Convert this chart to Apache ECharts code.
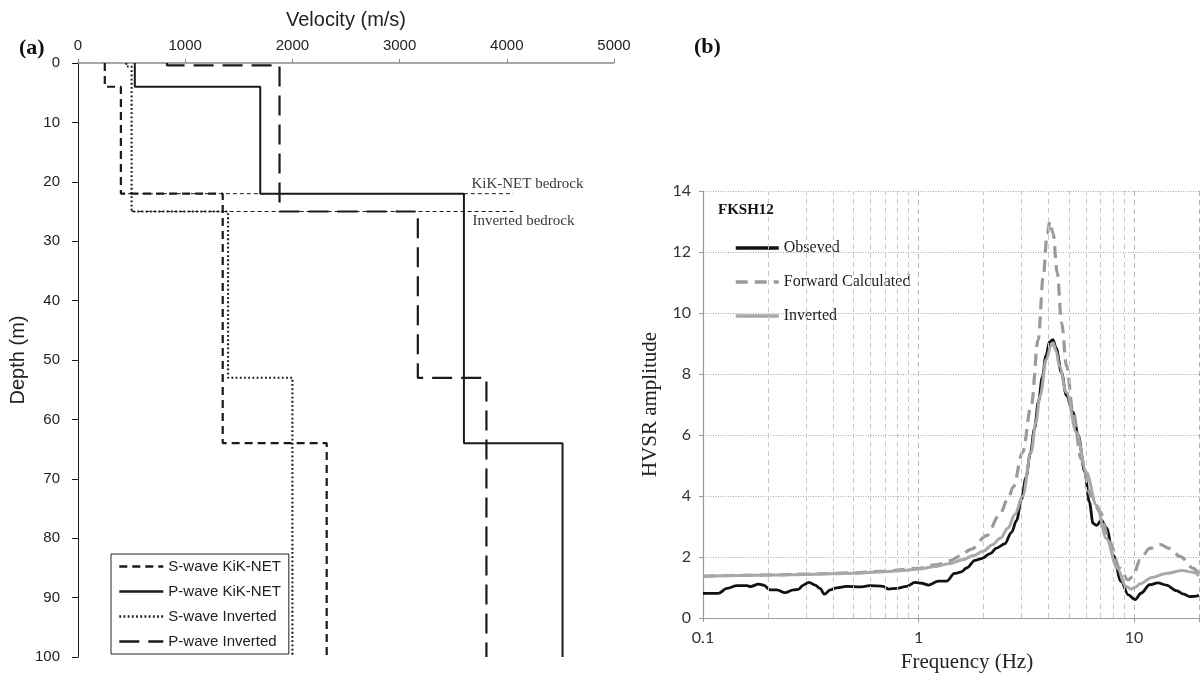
<!DOCTYPE html>
<html><head><meta charset="utf-8">
<script src="https://cdn.jsdelivr.net/npm/echarts@6/dist/echarts.min.js"></script>
<style>html,body{margin:0;padding:0;background:#fff}#c{width:1204px;height:678px}</style>
</head><body><div id="c"></div><script>
// ---------- Panel (a): velocity profiles ----------
const velTicks = [0, 1000, 2000, 3000, 4000, 5000];
const depthTicks = [0, 10, 20, 30, 40, 50, 60, 70, 80, 90, 100];
const sKikDepths = [0, 4, 22, 64, 100];
const sKikVel = [250, 400, 1350, 2320];
const pKikDepths = [0, 4, 22, 64, 100];
const pKikVel = [530, 1700, 3600, 4520];
const sInvDepths = [0, 0.6, 25, 53, 100];
const sInvVel = [450, 500, 1400, 2000];
const pInvDepths = [0, 0.4, 25, 53, 100];
const pInvVel = [830, 1880, 3170, 3810];
const profileNames = ['S-wave KiK-NET', 'P-wave KiK-NET', 'S-wave Inverted', 'P-wave Inverted'];
const bedrockDepths = [22, 25];
const bedrockStartVel = [400, 500];
const bedrockEndVel = [4060, 4060];
const bedrockLabels = ['KiK-NET bedrock', 'Inverted bedrock'];
const bedrockLabelVel = [3675, 3684];

// ---------- Panel (b): HVSR ----------
const obsFreq = [0.1,0.118,0.129,0.144,0.16,0.166,0.181,0.191,0.205,0.22,0.24,0.263,0.277,0.292,0.31,0.331,0.349,0.366,0.389,0.417,0.464,0.534,0.594,0.685,0.724,0.792,0.88,0.963,1.034,1.11,1.235,1.35,1.47,1.58,1.67,1.83,1.96,2.15,2.3,2.51,2.7,2.85,3.0,3.15,3.3,3.45,3.6,3.75,3.9,4.05,4.2,4.35,4.6,4.85,5.2,5.5,5.9,6.2,6.45,6.7,7.05,7.45,8.0,8.7,9.4,10.1,10.8,11.8,12.9,14.1,15.7,17.0,18.1,19.0,20];
const obsAmp = [0.81,0.81,0.97,1.06,1.06,1.03,1.11,1.08,0.92,0.92,0.83,0.92,0.94,1.08,1.17,1.08,0.97,0.78,0.92,0.99,1.04,1.02,1.06,1.04,0.95,0.97,1.04,1.17,1.14,1.08,1.21,1.21,1.46,1.51,1.64,1.89,1.95,2.11,2.29,2.43,2.81,3.2,3.9,4.6,5.4,6.2,7.1,7.9,8.6,9.05,9.13,8.85,8.05,7.3,6.75,6.0,4.8,3.8,3.1,3.04,3.21,2.95,2.05,1.2,0.76,0.6,0.82,1.09,1.15,1.08,0.9,0.78,0.7,0.71,0.74];
const fwdFreq = [0.1,0.2,0.3,0.5,0.7,1.0,1.2,1.4,1.55,1.75,2.07,2.37,2.6,2.75,3.04,3.33,3.59,3.79,3.95,4.07,4.21,4.4,4.61,4.86,5.21,5.68,6.32,6.95,7.7,8.59,9.37,9.88,10.64,11.8,13.2,14.6,16.4,18.8,20];
const fwdAmp = [1.37,1.41,1.44,1.48,1.54,1.63,1.74,1.88,2.02,2.25,2.7,3.37,3.9,4.3,5.44,6.96,9.13,11.2,12.6,13.0,12.6,11.3,9.68,8.26,6.74,5.22,4.0,3.48,2.5,1.63,1.25,1.36,1.9,2.28,2.41,2.28,2.01,1.63,1.43];
const invFreq = [0.1,0.15,0.2,0.3,0.4,0.5,0.7,0.85,1.0,1.2,1.4,1.6,1.8,2.0,2.2,2.4,2.6,2.8,3.04,3.33,3.5,3.66,3.92,4.1,4.21,4.35,4.5,4.86,5.4,6.0,6.69,7.44,8.35,9.18,9.7,10.2,10.64,12.1,14.1,16.7,18.8,20];
const invAmp = [1.37,1.39,1.41,1.43,1.45,1.47,1.52,1.56,1.61,1.69,1.79,1.91,2.05,2.2,2.4,2.62,2.95,3.4,4.0,5.44,6.4,7.28,8.48,8.9,9.02,8.75,8.26,7.39,6.09,4.78,3.7,2.61,1.63,1.03,0.95,1.02,1.12,1.33,1.46,1.56,1.5,1.38];
const hvsrNames = ['Obseved', 'Forward Calculated', 'Inverted'];
const freqLabels = [0.1, 1, 10];
const ampTicks = [0, 2, 4, 6, 8, 10, 12, 14];
const minorFreqLines = [0.2,0.3,0.4,0.5,0.6,0.7,0.8,0.9,2,3,4,5,6,7,8,9];
const stationName = 'FKSH12';

// ---------- build ----------
function stepProfile(depths, vels) {
  const pts = [];
  for (let i = 0; i < vels.length; i++) {
    pts.push([vels[i], depths[i]]);
    pts.push([vels[i], depths[i + 1]]);
  }
  return pts;
}
function pairs(xs, ys) { return xs.map((x, i) => [x, ys[i]]); }

const SANS = '"Liberation Sans", Arial, sans-serif';
const SERIF = '"Liberation Serif", "Times New Roman", serif';
const BLACK = '#1a1a1a';

const profiles = [
  { data: stepProfile(sKikDepths, sKikVel), type: [8, 5], width: 2.2 },
  { data: stepProfile(pKikDepths, pKikVel), type: 'solid', width: 2 },
  { data: stepProfile(sInvDepths, sInvVel), type: [1.8, 2.4], width: 2.1 },
  { data: stepProfile(pInvDepths, pInvVel), type: [20, 9], width: 2.2 }
];

const series = [];
bedrockDepths.forEach((d, i) => {
  series.push({
    type: 'line', name: 'bed' + i, xAxisIndex: 0, yAxisIndex: 0, z: 1,
    symbol: 'none', silent: true,
    data: [[bedrockStartVel[i], d], [bedrockEndVel[i], d]],
    lineStyle: { color: BLACK, width: 1, type: [4, 3] }
  });
});
profiles.forEach((p, i) => {
  series.push({
    type: 'line', name: profileNames[i], xAxisIndex: 0, yAxisIndex: 0, z: 3,
    symbol: 'none', data: p.data,
    lineStyle: { color: BLACK, width: p.width, type: p.type },
    itemStyle: { color: BLACK }
  });
});
series.push({
  type: 'scatter', name: 'bedLabels', xAxisIndex: 0, yAxisIndex: 0, silent: true,
  symbol: 'circle', symbolSize: 1, itemStyle: { color: 'rgba(0,0,0,0)' },
  data: bedrockDepths.map((d, i) => ({
    value: [bedrockLabelVel[i], d], name: bedrockLabels[i],
    label: { position: i === 0 ? [0, -17] : [0, 3] }
  })),
  label: {
    show: true, formatter: '{b}', align: 'left', verticalAlign: 'top',
    fontFamily: SERIF, fontSize: 15, color: '#000'
  }
});
// minor vertical gridlines for log axis
series.push({
  type: 'line', name: 'minorGrid', xAxisIndex: 1, yAxisIndex: 1, data: [], z: 1, silent: true,
  markLine: {
    silent: true, symbol: ['none', 'none'], label: { show: false }, animation: false,
    lineStyle: { color: '#c9c9c9', width: 1, type: [5, 4] },
    data: minorFreqLines.map(v => ({ xAxis: v }))
  }
});
const hvsrStyles = [
  { x: obsFreq, y: obsAmp, color: '#111111', width: 2.8, type: 'solid' },
  { x: fwdFreq, y: fwdAmp, color: '#9a9a9a', width: 3.2, type: [12, 7] },
  { x: invFreq, y: invAmp, color: '#a8a8a8', width: 3, type: 'solid' }
];
hvsrStyles.forEach((s, i) => {
  series.push({
    type: 'line', name: hvsrNames[i], xAxisIndex: 1, yAxisIndex: 1, z: 3 + i,
    symbol: 'none', smooth: 0.35, smoothMonotone: 'x',
    data: pairs(s.x, s.y),
    lineStyle: { color: s.color, width: s.width, type: s.type },
    itemStyle: { color: s.color }
  });
});

const option = {
  animation: false,
  backgroundColor: '#fff',
  title: [
    { text: '(a)', left: 14, top: 32, textStyle: { fontFamily: SERIF, fontWeight: 'bold', fontSize: 22, color: '#111' } },
    { text: '(b)', left: 689, top: 31, textStyle: { fontFamily: SERIF, fontWeight: 'bold', fontSize: 22, color: '#111' } },
    { text: stationName, left: 713, top: 198, textStyle: { fontFamily: SERIF, fontWeight: 'bold', fontSize: 15, color: '#111' } }
  ],
  grid: [
    { left: 78, top: 63, width: 536, height: 594 },
    { left: 703, top: 191, width: 496, height: 429 }
  ],
  legend: [
    {
      data: profileNames, left: 111, top: 554, orient: 'vertical',
      borderColor: '#222', borderWidth: 1, borderRadius: 0,
      padding: [5, 8, 5, 7], itemGap: 10, itemWidth: 44, itemHeight: 14,
      itemStyle: { opacity: 0 },
      lineStyle: { width: 2.6 },
      textStyle: { fontFamily: SANS, fontSize: 15, color: '#222' }
    },
    {
      data: hvsrNames, left: 734, top: 240, orient: 'vertical',
      padding: 0, itemGap: 18, itemWidth: 43, itemHeight: 14,
      itemStyle: { opacity: 0 },
      lineStyle: { width: 3.5 },
      textStyle: { fontFamily: SERIF, fontSize: 16, color: '#222' }
    }
  ],
  xAxis: [
    {
      type: 'value', gridIndex: 0, position: 'top',
      min: velTicks[0], max: velTicks[velTicks.length - 1], interval: velTicks[1] - velTicks[0],
      name: 'Velocity (m/s)', nameLocation: 'middle', nameGap: 33,
      nameTextStyle: { fontFamily: SANS, fontSize: 20, color: '#222' },
      axisLine: { lineStyle: { color: '#8a8a8a', width: 1.5 } },
      axisTick: { show: true, length: 4, lineStyle: { color: '#8a8a8a' } },
      axisLabel: { fontFamily: SANS, fontSize: 15, color: '#222', margin: 10, formatter: v => String(v) },
      splitLine: { show: false }
    },
    {
      type: 'log', gridIndex: 1, logBase: 10, min: 0.1, max: 20,
      name: 'Frequency (Hz)', nameLocation: 'middle', nameGap: 34,
      nameTextStyle: { fontFamily: SERIF, fontSize: 21, color: '#222', padding: [0, 0, 0, 32] },
      axisLine: { lineStyle: { color: '#9a9a9a', width: 1.2 } },
      axisTick: { show: true, length: 4, lineStyle: { color: '#9a9a9a' } },
      axisLabel: {
        fontFamily: 'Lato, "Open Sans", sans-serif', fontSize: 16, color: '#333', margin: 12,
        formatter: v => (freqLabels.some(t => Math.abs(t - v) < 1e-9) ? String(v) : '')
      },
      splitLine: { show: true, lineStyle: { color: '#b5b5b5', width: 1, type: [5, 4] } }
    }
  ],
  yAxis: [
    {
      type: 'value', gridIndex: 0, inverse: true,
      min: depthTicks[0], max: depthTicks[depthTicks.length - 1], interval: depthTicks[1] - depthTicks[0],
      name: 'Depth (m)', nameLocation: 'middle', nameGap: 50, nameRotate: 90,
      nameTextStyle: { fontFamily: SANS, fontSize: 20, color: '#222' },
      axisLine: { show: true, lineStyle: { color: BLACK, width: 1 } },
      axisTick: { show: true, length: 6, lineStyle: { color: BLACK } },
      axisLabel: { fontFamily: SANS, fontSize: 15, color: '#222', margin: 18 },
      splitLine: { show: false }
    },
    {
      type: 'value', gridIndex: 1,
      min: ampTicks[0], max: ampTicks[ampTicks.length - 1], interval: ampTicks[1] - ampTicks[0],
      name: 'HVSR amplitude', nameLocation: 'middle', nameGap: 42, nameRotate: 90,
      nameTextStyle: { fontFamily: SERIF, fontSize: 21, color: '#222' },
      axisLine: { show: true, lineStyle: { color: '#9a9a9a', width: 1.2 } },
      axisTick: { show: true, length: 4, lineStyle: { color: '#9a9a9a' } },
      axisLabel: { fontFamily: 'Lato, "Open Sans", sans-serif', fontSize: 16, color: '#333', margin: 12 },
      splitLine: { show: true, lineStyle: { color: '#a8a8a8', width: 1, type: [1, 1.5] } }
    }
  ],
  series: series
};
const chart = echarts.init(document.getElementById('c'), null, { renderer: 'canvas' });
chart.setOption(option);
</script></body></html>
